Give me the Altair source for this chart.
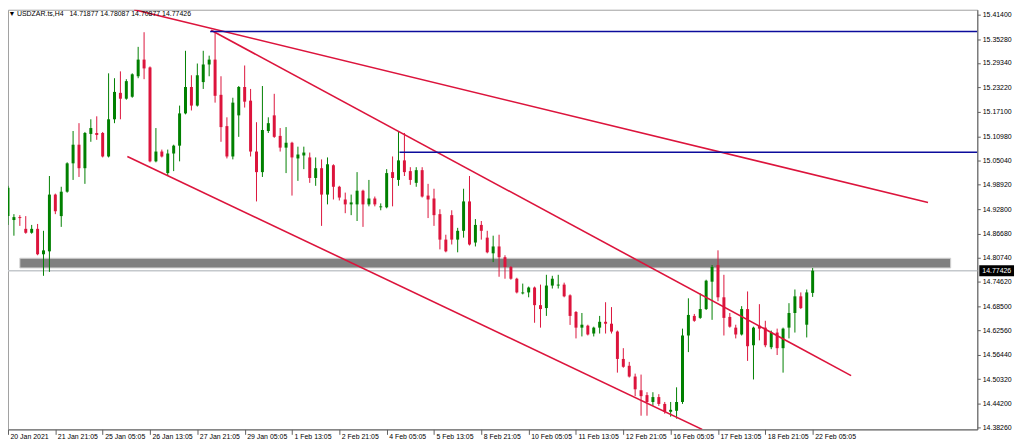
import altair as alt
import pandas as pd
import numpy as np

symbol = "USDZAR.ts,H4"

x_labels = ["20 Jan 2021", "21 Jan 21:05", "25 Jan 05:05", "26 Jan 13:05", "27 Jan 21:05",
            "29 Jan 05:05", "1 Feb 13:05", "2 Feb 21:05", "4 Feb 05:05", "5 Feb 13:05",
            "8 Feb 21:05", "10 Feb 05:05", "11 Feb 13:05", "12 Feb 21:05", "16 Feb 05:05",
            "17 Feb 13:05", "18 Feb 21:05", "22 Feb 05:05"]
label_bars = [8 * k for k in range(len(x_labels))]

y_ticks = [15.414, 15.3528, 15.2934, 15.2322, 15.171, 15.1098, 15.0504, 14.9892, 14.928,
           14.8668, 14.8074, 14.7462, 14.685, 14.6256, 14.5644, 14.5032, 14.442, 14.3826]

opens = [14.9106, 14.9008, 14.9081, 14.8788, 14.8690, 14.8788, 14.8153, 14.8226, 14.9644, 14.9106,
         14.9716, 15.0425, 15.0890, 15.0303, 15.1159, 15.1183, 15.1183, 15.0596, 15.1525, 15.2185,
         15.2039, 15.2088, 15.2600, 15.3016, 15.2821, 15.0474, 15.0719, 15.0181, 15.0670, 15.0866,
         15.1672, 15.2332, 15.1867, 15.2454, 15.2894, 15.3016, 15.2136, 15.1354, 15.0596, 15.1623,
         15.2332, 15.1990, 15.0719, 15.0205, 15.1232, 15.1623, 15.1110, 15.0817, 15.0939, 15.0547,
         15.0621, 15.0572, 15.0059, 15.0303, 14.9644, 15.0377, 14.9839, 14.9521, 14.9399, 14.9399,
         14.9741, 14.9399, 14.9546, 14.9326, 14.9326, 15.0205, 15.0010, 15.0498, 15.0230, 14.9937,
         15.0254, 14.9619, 14.9546, 14.9155, 14.8519, 14.9130, 14.8519, 14.8739, 14.9473, 14.8446,
         14.8886, 14.8568, 14.8177, 14.8348, 14.8079, 14.7835, 14.7542, 14.7175, 14.7200, 14.7322,
         14.6882, 14.6809, 14.7371, 14.7371, 14.7395, 14.7127, 14.6711, 14.6320, 14.6369, 14.6173,
         14.6320, 14.6466, 14.6418, 14.6222, 14.5538, 14.5367, 14.5098, 14.4756, 14.4634, 14.4463,
         14.4585, 14.4414, 14.4219, 14.4243, 14.4463, 14.6124, 14.6613, 14.6564, 14.6784, 14.7468,
         14.7884, 14.7078, 14.6588, 14.6320, 14.6149, 14.6784, 14.5880, 14.6369, 14.6320, 14.5831,
         14.6197, 14.5807, 14.6320, 14.6686, 14.7102, 14.6393, 14.71877]

highs = [14.9863, 14.9155, 14.9130, 14.9106, 14.8886, 14.8910, 14.8739, 15.0108, 14.9668, 14.9839,
         15.0450, 15.1232, 15.1428, 15.1208, 15.1525, 15.1599, 15.1208, 15.2673, 15.2551, 15.2722,
         15.2527, 15.2673, 15.3334, 15.3700, 15.2845, 15.1306, 15.0768, 15.0768, 15.0890, 15.1867,
         15.3236, 15.2625, 15.2918, 15.3236, 15.3114, 15.3717, 15.2600, 15.1574, 15.2063, 15.2356,
         15.2869, 15.2283, 15.1452, 15.2356, 15.1574, 15.2161, 15.1306, 15.1330, 15.0963, 15.0841,
         15.0841, 15.0694, 15.0572, 15.0523, 15.0572, 15.0401, 14.9863, 14.9693, 14.9644, 15.0205,
         14.9766, 15.0010, 14.9595, 14.9424, 15.0279, 15.0596, 15.1232, 15.1183, 15.0328, 15.0328,
         15.0328, 14.9912, 14.9790, 14.9277, 14.8641, 14.9252, 14.8813, 14.9790, 15.0108, 14.9032,
         14.8984, 14.8739, 14.8617, 14.8641, 14.8128, 14.7860, 14.7566, 14.7420, 14.7346, 14.7346,
         14.7395, 14.7640, 14.7615, 14.7640, 14.7444, 14.7151, 14.6735, 14.6686, 14.6393, 14.6344,
         14.6613, 14.6955, 14.6833, 14.6247, 14.5807, 14.5464, 14.5171, 14.5147, 14.4707, 14.4707,
         14.4658, 14.4463, 14.4463, 14.4829, 14.6295, 14.7053, 14.6662, 14.7175, 14.7517, 14.7884,
         14.8251, 14.7640, 14.6686, 14.6393, 14.6857, 14.7224, 14.6344, 14.6906, 14.6491, 14.6247,
         14.6295, 14.6320, 14.6931, 14.7273, 14.7200, 14.7273, 14.78087]

lows = [14.8886, 14.8617, 14.8862, 14.8666, 14.8666, 14.8129, 14.7615, 14.7713, 14.9155, 14.8837,
        14.9692, 15.0010, 15.0084, 14.9912, 15.0963, 15.1012, 15.0572, 15.0572, 15.1428, 15.1525,
        15.2014, 15.2063, 15.2551, 15.2527, 15.0450, 15.0450, 15.0572, 15.0108, 15.0230, 15.0474,
        15.1648, 15.1745, 15.1843, 15.2283, 15.2600, 15.1941, 15.0963, 15.0547, 15.0523, 15.1086,
        15.1818, 15.0596, 14.9473, 15.0084, 15.1183, 15.1061, 15.0719, 15.0181, 14.9619, 14.9986,
        15.0279, 14.9937, 14.9863, 14.8862, 14.9399, 14.9521, 14.9497, 14.9179, 14.9130, 14.8984,
        14.8837, 14.9350, 14.9350, 14.9252, 14.9301, 14.9350, 14.9863, 15.0108, 14.9888, 14.9839,
        14.9570, 14.9057, 14.8862, 14.8275, 14.8202, 14.8397, 14.8202, 14.8568, 14.8373, 14.8348,
        14.8519, 14.8177, 14.7957, 14.7591, 14.7542, 14.7517, 14.7175, 14.7151, 14.7078, 14.6442,
        14.6320, 14.6613, 14.7297, 14.7297, 14.7078, 14.6388, 14.6051, 14.6100, 14.6125, 14.6100,
        14.6173, 14.6173, 14.6173, 14.5196, 14.5318, 14.5074, 14.4609, 14.4120, 14.4120, 14.4365,
        14.4365, 14.4170, 14.4096, 14.4047, 14.4414, 14.5709, 14.6466, 14.6540, 14.6760, 14.6515,
        14.6980, 14.6124, 14.6320, 14.6051, 14.6124, 14.5489, 14.5025, 14.6002, 14.5831, 14.5782,
        14.5636, 14.5196, 14.6051, 14.6197, 14.6784, 14.6075, 14.70877]

closes = [14.9814, 14.9081, 14.9057, 14.8690, 14.8788, 14.8153, 14.8250, 14.9644, 14.9228, 14.9716,
          15.0425, 15.0890, 15.0303, 15.1183, 15.1306, 15.1134, 15.0596, 15.1525, 15.2209, 15.2039,
          15.2478, 15.2649, 15.3016, 15.2796, 15.0474, 15.0719, 15.0596, 15.0670, 15.0866, 15.1672,
          15.2332, 15.1867, 15.2625, 15.2894, 15.3016, 15.2112, 15.1330, 15.0596, 15.1941, 15.2332,
          15.1965, 15.0719, 15.0205, 15.1257, 15.1428, 15.1086, 15.0817, 15.0939, 15.0572, 15.0645,
          15.0694, 15.0059, 15.0303, 14.9644, 15.0401, 14.9839, 14.9570, 14.9399, 14.9448, 14.9741,
          14.9399, 14.9546, 14.9399, 14.9350, 15.0181, 15.0059, 15.0498, 15.0205, 15.0010, 15.0254,
          14.9595, 14.9521, 14.9130, 14.8519, 14.8226, 14.8519, 14.8739, 14.9473, 14.8397, 14.8886,
          14.8739, 14.8202, 14.8348, 14.8079, 14.7835, 14.7542, 14.7200, 14.7200, 14.7322, 14.6882,
          14.6784, 14.7371, 14.7542, 14.7395, 14.7102, 14.6613, 14.6320, 14.6393, 14.6149, 14.6320,
          14.6466, 14.6418, 14.6222, 14.5538, 14.5342, 14.5098, 14.4780, 14.4609, 14.4463, 14.4585,
          14.4414, 14.4219, 14.4267, 14.4463, 14.6124, 14.6637, 14.6491, 14.6784, 14.7493, 14.7835,
          14.7078, 14.6564, 14.6344, 14.6149, 14.6784, 14.5856, 14.6320, 14.6295, 14.5880, 14.6197,
          14.5807, 14.6295, 14.6686, 14.7102, 14.6809, 14.7200, 14.77426]

# trend lines drawn on the chart (bar index, price)
trend_x1 = [21.33, 34.33, 20.17]
trend_p1 = [15.4262, 15.3749, 15.0597]
trend_x2 = [155.5, 142.5, 117.33]
trend_p2 = [14.9448, 14.5122, 14.3778]

# horizontal blue levels
level_price = [15.3717, 15.0702]
level_start = [34.17, 66.17]

# grey zone
zone_x = [2.0, 159.33]
zone_p = [14.7811, 14.8055]

X_END = 163.83
Y_MIN, Y_MAX = 14.3778, 15.4262

W, H = 977, 423
FONT = "Liberation Sans"
RED = "#DC143C"
GREEN = "#008000"

df = pd.DataFrame({"bar": np.arange(len(opens)), "open": opens, "high": highs,
                   "low": lows, "close": closes})
df["dir"] = np.where(df["close"] >= df["open"], "up", "down")
last = df.iloc[-1]


def xs():
    return alt.Scale(domain=[0, X_END], nice=False, zero=False, padding=0)


def ys():
    return alt.Scale(domain=[Y_MIN, Y_MAX], nice=False, zero=False, padding=0)


col = alt.Color("dir:N", scale=alt.Scale(domain=["up", "down"], range=[GREEN, RED]), legend=None)

label_expr = "[" + ",".join("'%s'" % s for s in x_labels) + "][round(datum.value/8)]"

x_axis = alt.Axis(values=label_bars, labelExpr=label_expr, labelAlign="left", labelBaseline="middle",
                  labelOffset=2, labelPadding=2, tickSize=5, labelOverlap=False, labelBound=False,
                  labelFlush=False, grid=False, title=None)
y_axis = alt.Axis(orient="right", values=y_ticks, format=".5f", tickSize=3, labelPadding=2,
                  labelAlign="left", labelBaseline="middle", labelOverlap=False, labelBound=False,
                  labelFlush=False, grid=False, title=None)

wicks = alt.Chart(df).mark_rule(strokeWidth=1).encode(
    x=alt.X("bar:Q", scale=xs(), axis=x_axis),
    y=alt.Y("low:Q", scale=ys(), axis=y_axis), y2="high:Q", color=col)

bodies = alt.Chart(df).mark_bar(size=3).encode(
    x=alt.X("bar:Q", scale=xs(), axis=None),
    y=alt.Y("open:Q", scale=ys(), axis=None), y2="close:Q", color=col)

zone_df = pd.DataFrame({"x1": [zone_x[0]], "x2": [zone_x[1]], "p1": [zone_p[0]], "p2": [zone_p[1]]})
zone = alt.Chart(zone_df).mark_rect(fill="#808080", stroke="#d4d4d4", strokeWidth=1).encode(
    x=alt.X("x1:Q", scale=xs(), axis=None), x2="x2:Q",
    y=alt.Y("p1:Q", scale=ys(), axis=None), y2="p2:Q")

price_df = pd.DataFrame({"p": [last["close"]], "t": ["%.5f" % last["close"]]})
price_line = alt.Chart(price_df).mark_rule(color="#c4c8cc", strokeWidth=1.5).encode(
    x=alt.value(0), x2=alt.value(W), y=alt.Y("p:Q", scale=ys(), axis=None))

trend_df = pd.DataFrame({"x1": trend_x1, "x2": trend_x2, "p1": trend_p1, "p2": trend_p2})
trends = alt.Chart(trend_df).mark_rule(color=RED, strokeWidth=1.6, clip=True).encode(
    x=alt.X("x1:Q", scale=xs(), axis=None), x2="x2:Q",
    y=alt.Y("p1:Q", scale=ys(), axis=None), y2="p2:Q")

level_df = pd.DataFrame({"start": level_start, "p": level_price})
levels = alt.Chart(level_df).mark_rule(color="#0c0c9c", strokeWidth=1.5, clip=True).encode(
    x=alt.X("start:Q", scale=xs(), axis=None), x2=alt.value(W),
    y=alt.Y("p:Q", scale=ys(), axis=None))


def head_text(txt, px):
    return alt.Chart(pd.DataFrame({"t": [txt]})).mark_text(
        font=FONT, fontSize=7, color="black", align="left", baseline="middle").encode(
        text="t:N", x=alt.value(px), y=alt.value(4.5))


ohlc_txt = " ".join("%.5f" % last[k] for k in ["open", "high", "low", "close"])
head = [head_text("\u25BC", 0.5), head_text(symbol, 9), head_text(ohlc_txt, 62)]

tag_box = alt.Chart(price_df).mark_rule(color="black", strokeWidth=11).encode(
    x=alt.value(W + 2), x2=alt.value(W + 37), y=alt.Y("p:Q", scale=ys(), axis=None))
tag_txt = alt.Chart(price_df).mark_text(font=FONT, fontSize=7, color="white", align="left",
                                        baseline="middle").encode(
    x=alt.value(W + 5), y=alt.Y("p:Q", scale=ys(), axis=None), text="t:N")

chart = alt.layer(zone, price_line, wicks, bodies, trends, levels, *head, tag_box, tag_txt).properties(
    width=W, height=H,
    autosize=alt.AutoSizeParams(type="none"),
    padding={"left": 0, "top": 0, "right": 39, "bottom": 15},
    background="white",
).resolve_scale(x="independent", y="independent").resolve_axis(
    x="independent", y="independent"
).configure_axis(
    labelFont=FONT, labelFontSize=7, labelColor="black",
    domainColor="#606060", tickColor="#606060", domainWidth=1, tickWidth=1
).configure_view(stroke="#a0a0a0", strokeWidth=1)

chart.save("out.html", embed_options={"renderer": "svg", "actions": False})
